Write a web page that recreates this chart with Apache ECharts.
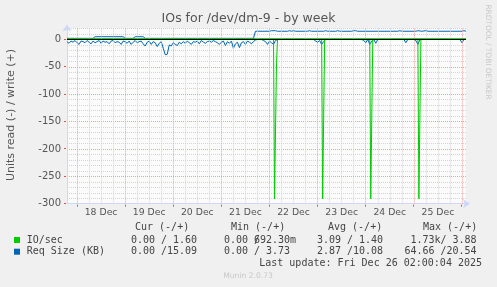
<!DOCTYPE html>
<html><head><meta charset="utf-8">
<script src="https://cdn.jsdelivr.net/npm/echarts@6/dist/echarts.min.js"></script>
<style>html,body{margin:0;padding:0;background:#f0f0f0}#c{width:497px;height:287px}</style>
</head><body><div id="c"></div>
<script>
// ---- data (hours relative to 18 Dec 00:00) ----
const chartTitle = 'IOs for /dev/dm-9 - by week';
const yAxisName = 'Units read (-) / write (+)';
const dayLabels = ['18 Dec','19 Dec','20 Dec','21 Dec','22 Dec','23 Dec','24 Dec','25 Dec'];
const xStartHour = -5;
const xEndHour = 194;
const yMin = -300;
const yMax = 20;
const dayLineHours = [0, 24, 48, 72, 96, 120, 144, 168, 192];
const sixHourLineHours = [6, 12, 18, 30, 36, 42, 54, 60, 66, 78, 84, 90, 102, 108, 114, 126, 132, 138, 150, 156, 162, 174, 180, 186];

// Req Size (KB) read (-), hourly from xStartHour
const blueReadHourly = [
  -4,-7,-3,-5,-2,-6,-9,-3,-4,-6,
  -2,-5,-8,-3,-6,-4,-2,-7,-3,-5,
  -4,-8,-3,-2,-6,-4,-5,-9,-3,-4,
  -7,-3,-9,-5,-2,-6,-4,-3,-8,-12,
  -5,-3,-9,-4,-6,-13,-7,-4,-16,-28,
  -27,-10,-12,-6,-9,-11,-5,-8,-4,-7,
  -3,-6,-9,-4,-5,-3,-8,-2,-5,-7,
  -4,-3,-5,-2,-4,-6,-9,-5,-3,-11,
  -4,-7,-3,-16,-8,-5,-15,-6,-4,-9,
  -3,-5,-8,-4,-1,0,0,0,-2,-4,
  -9,-3,-6,-9,-2,0,0,0,0,0,
  0,0,0,0,0,0,0,0,0,0,
  0,0,0,0,-3,-5,-2,-9,-4,0,
  0,0,0,0,0,0,0,0,0,0,
  0,0,0,0,0,0,0,0,-2,-6,
  0,-9,-3,0,-7,0,0,0,0,0,
  0,0,0,0,0,0,0,0,0,-6,
  0,0,0,0,-2,-9,0,0,0,0,
  0,0,0,0,0,0,0,0,0,0,
  0,0,0,0,0,0,0,-6,0,0
];
// Req Size (KB) write (+), [hour, value]
const blueWrite = [[-5,2],[8,2],[9,5],[23,5],[24,2],[28,2],[29,5],[33,5],[34,2],[88,2],[89,15],
  [96,15],[97,16],[99,16],[100,15],[105,15],[106,16],[107,15],[108,16],[109,15],[115,15],[116,16],[117,15],
  [123,15],[124,16],[125,15],[129,15],[130,16],[131,15],[137,15],[138,16],[139,16],[140,15],
  [160,15],[161,16],[162,15],[169,15],[170,16],[172,15],[174,16],[175,15],[192,15],[193,16],[194,15]];
// IO/sec read (-), [hour, value]
const ioRead = [[-5,0],[98,0],[98.5,-291],[99,-291],[99.5,-42],[100,0],
  [122,0],[122.5,-291],[123,-291],[123.5,0],
  [146,0],[146.5,-291],[147,-291],[147.5,0],
  [170,0],[170.5,-291],[171,-291],[171.5,0],[194,0]];
// IO/sec write (+), [hour, value]
const ioWrite = [[-5,1.5],[60,1.5],[61,1.8],[62,1.5],[194,1.5]];

const legendNames = ['IO/sec','Req Size (KB)'];
const statHeaders = ['Cur (-/+)','Min (-/+)','Avg (-/+)','Max (-/+)'];
const ioStats = ['0.00 / 1.60','0.00 /692.30m','3.09 / 1.40','1.73k/ 3.88'];
const sizeStats = ['0.00 /15.09','0.00 / 3.73','2.87 /10.08','64.66 /20.54'];
const lastUpdate = 'Last update: Fri Dec 26 02:00:04 2025';
const footerText = 'Munin 2.0.73';
const watermark = 'RRDTOOL / TOBI OETIKER';

// ---- styles ----
const GREEN = '#00cc00', BLUE = '#0066b3';
const RED = '#efa0a0', GRAY = '#d4d4d4', AXIS = '#cfd6f8';
const FONT = '"DejaVu Sans", sans-serif';
const MONO = '"DejaVu Sans Mono", monospace';
const yGridColors = [RED, GRAY, GRAY, GRAY, GRAY];

const graphic = [];
function txt(x, y, text, font, fill, align, extra) {
  graphic.push(Object.assign({type: 'text', x, y, silent: true,
    style: {text, font, fill, align: align || 'left', verticalAlign: 'middle'}}, extra || {}));
}
txt(248.5, 19, chartTitle, '12.5px ' + FONT, '#555', 'center');
txt(11, 115, yAxisName, '11px ' + FONT, '#555', 'center', {rotation: Math.PI / 2});
txt(488, 52, watermark, '7.4px ' + FONT, '#c8c8c8', 'center', {rotation: -Math.PI / 2});

const headerX = [135, 231, 328, 423];
statHeaders.forEach((t, i) => txt(headerX[i], 227.7, t, '10px ' + MONO, '#444'));
const slashX = [161, 254, 347, 440.5];
const rowY = [240, 251.7];
const colors = [GREEN, BLUE];
[ioStats, sizeStats].forEach((row, r) => {
  graphic.push({type: 'rect', shape: {x: 14, y: rowY[r] - 3, width: 6, height: 6}, style: {fill: colors[r]}, silent: true});
  txt(26.7, rowY[r], legendNames[r], '10px ' + MONO, '#444');
  row.forEach((s, i) => {
    const k = s.indexOf('/');
    const L = s.slice(0, k), R = s.slice(k + 1);
    txt(slashX[i], rowY[r], L, '10px ' + MONO, '#444', 'right');
    txt(slashX[i], rowY[r], '/', '10px ' + MONO, '#444', 'left');
    txt(R.length > 5 ? slashX[i] : slashX[i] + 6.02, rowY[r], R, '10px ' + MONO, '#444', 'left');
  });
});
txt(482, 263.3, lastUpdate, '10px ' + MONO, '#444', 'right');
txt(248, 276, footerText, '7.6px ' + FONT, '#c8c8c8', 'center');

const chart = echarts.init(document.getElementById('c'), null, {renderer: 'canvas'});
const line = (name, data, color, z, extra) => Object.assign({
  name, type: 'line', data, showSymbol: false, symbol: 'none', animation: false, z,
  lineStyle: {color, width: 1}, itemStyle: {color}
}, extra || {});
const vGrid = (hours, color, z) => ({
  type: 'line', data: [], z, animation: false, silent: true,
  markLine: {silent: true, symbol: ['none', 'none'], animation: false, label: {show: false},
    lineStyle: {color, width: 1, type: [1, 1]}, data: hours.map(h => ({xAxis: h}))}
});

chart.setOption({
  backgroundColor: '#f0f0f0',
  animation: false,
  grid: {left: 67, top: 28.5, width: 399, height: 175.2, show: true, backgroundColor: '#fbfbfb', borderWidth: 0, outerBoundsMode: 'none'},
  xAxis: {
    type: 'value', min: xStartHour, max: xEndHour, interval: 1,
    axisLine: {onZero: false, lineStyle: {color: AXIS, width: 1}, symbol: ['none', 'arrow'], symbolSize: [7, 7], symbolOffset: [0, 4]},
    axisTick: {show: false},
    splitLine: {show: false},
    axisLabel: {
      margin: 4, color: '#555', fontFamily: FONT, fontSize: 9.3,
      formatter: v => { const d = v - 12; return (d >= 0 && d % 24 === 0 && dayLabels[d / 24]) ? dayLabels[d / 24] : ''; }
    }
  },
  yAxis: {
    type: 'value', min: yMin, max: yMax, interval: 10,
    axisLine: {show: true, onZero: false, lineStyle: {color: AXIS, width: 1}, symbol: ['none', 'arrow'], symbolSize: [7, 7], symbolOffset: [0, 4]},
    axisTick: {show: false},
    splitLine: {show: true, lineStyle: {color: yGridColors, width: 1, type: [1, 1]}},
    axisLabel: {margin: 6, color: '#555', fontFamily: FONT, fontSize: 10,
      formatter: v => (v % 50 === 0 ? String(v) : '')}
  },
  series: [
    vGrid(sixHourLineHours, GRAY, 0),
    vGrid(dayLineHours, RED, 1),
    line('Req Size write', blueWrite, BLUE, 2),
    line('Req Size read', blueReadHourly.map((v, i) => [xStartHour + i, v]), BLUE, 2),
    line('IO/sec read', ioRead, GREEN, 3, {
      markLine: {silent: true, symbol: ['none', 'none'], animation: false, label: {show: false},
        lineStyle: {color: '#000', width: 1, type: 'solid'}, data: [{yAxis: 0}]}
    }),
    line('IO/sec write', ioWrite, GREEN, 4)
  ],
  graphic
});

// small red ticks outside the plot at day lines and every 50 units, placed through the axes
const ticks = [];
dayLineHours.forEach(h => {
  const p = chart.convertToPixel({xAxisIndex: 0, yAxisIndex: 0}, [h, yMin]);
  const x = Math.round(p[0] - 0.5) + 0.5;
  ticks.push({type: 'line', silent: true, shape: {x1: x, y1: p[1] + 1, x2: x, y2: p[1] + 3}, style: {stroke: '#e05050', lineWidth: 1}});
});
for (let v = yMin; v <= 0; v += 50) {
  const p = chart.convertToPixel({xAxisIndex: 0, yAxisIndex: 0}, [xStartHour, v]);
  const y = Math.round(p[1] - 0.5) + 0.5;
  ticks.push({type: 'line', silent: true, shape: {x1: p[0] - 3, y1: y, x2: p[0] - 1, y2: y}, style: {stroke: '#e05050', lineWidth: 1}});
}
chart.setOption({graphic: graphic.concat(ticks)});
</script></body></html>
